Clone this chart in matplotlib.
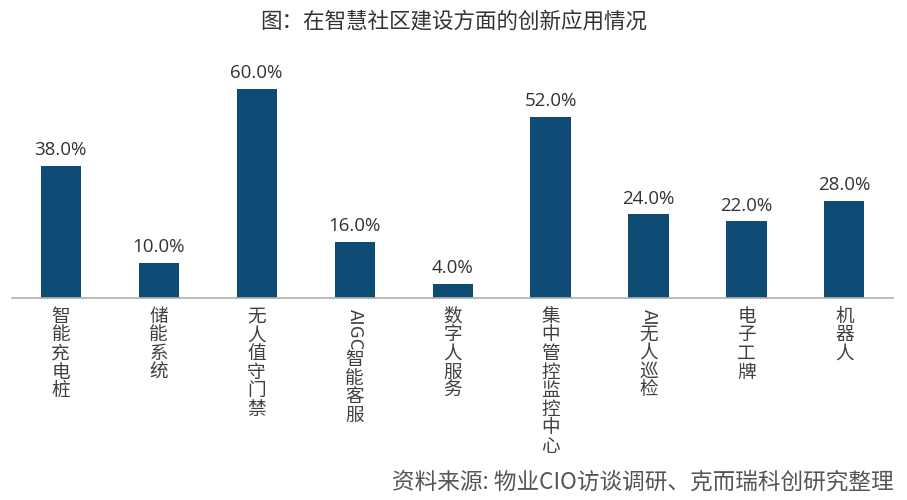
import matplotlib.pyplot as plt
from matplotlib.font_manager import FontProperties
from matplotlib.textpath import TextPath

plt.rcParams['font.family'] = ['Noto Sans CJK SC', 'DejaVu Sans']

# Data
categories = ["智能充电桩", "储能系统", "无人值守门禁", "AIGC智能客服", "数字人服务",
              "集中管控监控中心", "AI无人巡检", "电子工牌", "机器人"]
values = [38.0, 10.0, 60.0, 16.0, 4.0, 52.0, 24.0, 22.0, 28.0]

title = "图：在智慧社区建设方面的创新应用情况"
source = "资料来源: 物业CIO访谈调研、克而瑞科创研究整理"

bar_color = "#0f4c75"
text_color = "#333333"
label_color = "#404040"

fig = plt.figure(figsize=(9.07, 5.0), dpi=100)
ax = fig.add_axes([0.013, 0.404, 0.972, 0.476])

x = list(range(len(categories)))
ax.bar(x, values, width=0.41, color=bar_color)
ax.set_xlim(-0.5, len(categories) - 0.5)
ax.set_ylim(0, 68.4)

for xi, v in zip(x, values):
    ax.annotate(f"{v:.1f}%", xy=(xi, v), xytext=(0, 5), textcoords='offset points',
                ha='center', va='bottom', fontsize=13.5, color=text_color,
                family=['Open Sans', 'DejaVu Sans'])

# axes styling
for s in ['top', 'right', 'left']:
    ax.spines[s].set_visible(False)
ax.spines['bottom'].set_color('#b0b0b0')
ax.spines['bottom'].set_linewidth(1.2)
ax.set_xticks([])
ax.set_yticks([])

# vertical x labels: CJK upright, latin runs rotated
fs = 13.4
prop = FontProperties(family='Noto Sans CJK SC', size=fs)


def segments(s):
    out = []
    buf = ""
    for ch in s:
        if ord(ch) < 128:
            buf += ch
        else:
            if buf:
                out.append(buf)
                buf = ""
            out.append(ch)
    if buf:
        out.append(buf)
    return out


for xi, lab in zip(x, categories):
    off = 7
    for seg in segments(lab):
        if ord(seg[0]) < 128:
            w = TextPath((0, 0), seg, size=fs, prop=prop).get_extents().width
            ax.annotate(seg, xy=(xi, 0), xycoords=('data', 'axes fraction'),
                        xytext=(0, -off - 1), textcoords='offset points',
                        ha='center', va='top', rotation=-90,
                        fontsize=fs, color=label_color)
            off += w + 2
        else:
            ax.annotate(seg, xy=(xi, 0), xycoords=('data', 'axes fraction'),
                        xytext=(0, -off), textcoords='offset points',
                        ha='center', va='top', fontsize=fs, color=label_color)
            off += fs * 1.0

fig.text(0.5, 0.955, title, ha='center', va='center', fontsize=15.5,
         color=text_color)
fig.text(0.985, 0.035, source, ha='right', va='center', fontsize=16.3,
         color='#555555')

fig.savefig("out.png", dpi=100)
